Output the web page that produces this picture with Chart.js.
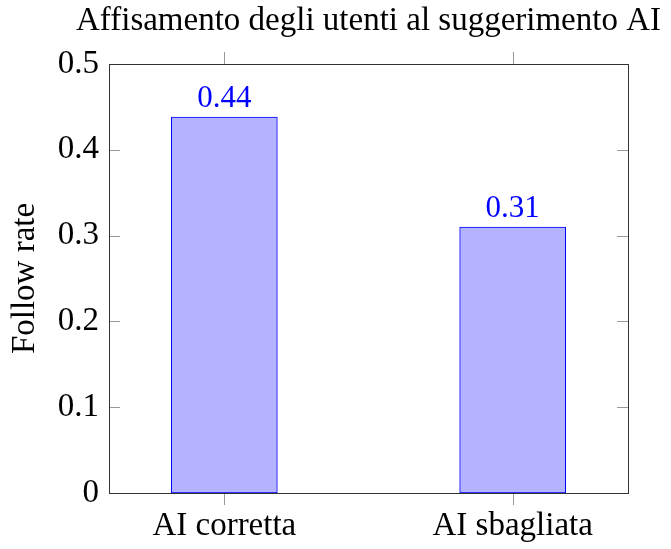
<!DOCTYPE html>
<html>
<head>
<meta charset="utf-8">
<script src="https://cdn.jsdelivr.net/npm/chart.js@4"></script>
<style>
  html, body { margin: 0; padding: 0; background: #fff; }
</style>
</head>
<body>
<canvas id="chart" width="671" height="549"></canvas>
<script>
'use strict';
const chartTitle = 'Affisamento degli utenti al suggerimento AI';
const categories = ['AI corretta', 'AI sbagliata'];
const followRate = [0.438, 0.31];
const valueLabels = ['0.44', '0.31'];
const yTickValues = [0, 0.1, 0.2, 0.3, 0.4, 0.5];
const yTickLabels = ['0', '0.1', '0.2', '0.3', '0.4', '0.5'];

const FONT = "'Liberation Serif', 'Times New Roman', serif";

// pgfplots-like frame, inner y ticks, outer x ticks, title over the axis and value labels
const framePlugin = {
  id: 'frame',
  afterDatasetsDraw(chart) {
    const { ctx, chartArea: a, scales } = chart;
    ctx.save();
    ctx.lineWidth = 1;
    ctx.strokeStyle = '#999';
    yTickValues.forEach((v) => {
      const y = Math.round(scales.y.getPixelForValue(v)) + 0.5;
      ctx.beginPath();
      ctx.moveTo(a.left, y); ctx.lineTo(a.left + 11, y);
      ctx.moveTo(a.right, y); ctx.lineTo(a.right - 11, y);
      ctx.stroke();
    });
    categories.forEach((c, i) => {
      const x = Math.round(scales.x.getPixelForValue(i)) + 0.5;
      ctx.beginPath();
      ctx.moveTo(x, a.bottom); ctx.lineTo(x, a.bottom + 12);
      ctx.moveTo(x, a.top); ctx.lineTo(x, a.top - 12);
      ctx.stroke();
    });
    ctx.strokeStyle = '#333';
    ctx.strokeRect(Math.round(a.left) + 0.5, Math.round(a.top) + 0.5,
      Math.round(a.right - a.left), Math.round(a.bottom - a.top));

    ctx.textAlign = 'center';
    ctx.textBaseline = 'alphabetic';

    ctx.fillStyle = '#000';
    ctx.font = '33px ' + FONT;
    ctx.fillText(chartTitle, (a.left + a.right) / 2, a.top - 34);

    const meta = chart.getDatasetMeta(0);
    ctx.fillStyle = '#0000ff';
    ctx.font = '31px ' + FONT;
    meta.data.forEach((bar, i) => {
      ctx.fillText(valueLabels[i], bar.x, bar.y - 10);
    });
    ctx.restore();
  },
};

const ctx = document.getElementById('chart').getContext('2d');
const followChart = new Chart(ctx, {
  type: 'bar',
  data: {
    datasets: [
      {
        label: 'Follow rate',
        data: followRate.map((v, i) => ({ x: i, y: v })),
        backgroundColor: 'rgb(179, 179, 255)',
        borderColor: '#0000ff',
        borderWidth: 1,
        borderSkipped: false,
        barThickness: 106,
      },
    ],
  },
  options: {
    responsive: false,
    animation: false,
    layout: { padding: { left: 0, right: 43, top: 64, bottom: 0 } },
    plugins: {
      legend: { display: false },
      tooltip: { enabled: false },
      title: { display: false },
    },
    scales: {
      x: {
        type: 'linear',
        min: -0.4,
        max: 1.4,
        offset: false,
        grid: { display: false, drawTicks: false },
        border: { display: false },
        afterBuildTicks(scale) {
          scale.ticks = categories.map((c, i) => ({ value: i }));
        },
        afterFit(scale) { scale.height = 56; },
        ticks: {
          color: '#000',
          padding: 14,
          maxRotation: 0,
          font: { family: FONT, size: 33 },
          callback: (v) => categories[v],
        },
      },
      y: {
        min: 0,
        max: 0.5,
        grid: { display: false, drawTicks: false },
        border: { display: false },
        afterBuildTicks(scale) {
          scale.ticks = yTickValues.map((v) => ({ value: v }));
        },
        afterFit(scale) { scale.width = 109; },
        ticks: {
          color: '#000',
          padding: 10,
          font: { family: FONT, size: 33 },
          callback: (v) => yTickLabels[yTickValues.indexOf(v)],
        },
        title: {
          display: true,
          text: 'Follow rate',
          color: '#000',
          font: { family: FONT, size: 33 },
          padding: { top: 6, bottom: 0 },
        },
      },
    },
  },
  plugins: [framePlugin],
});
</script>
</body>
</html>
